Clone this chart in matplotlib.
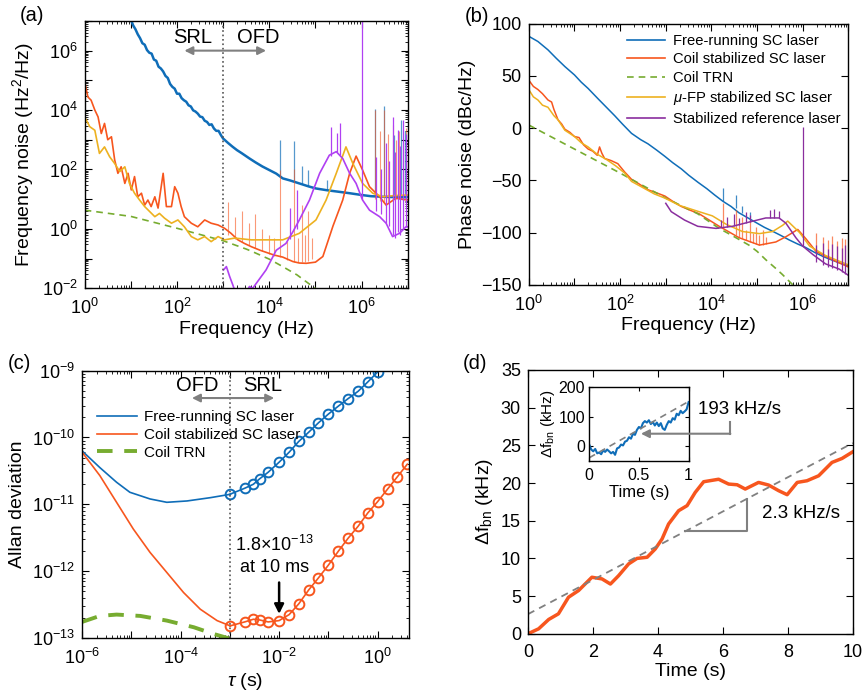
import numpy as np
import matplotlib.pyplot as plt
from matplotlib.ticker import LogLocator, NullFormatter, MultipleLocator

plt.rcParams.update({
    "font.family": ["Liberation Sans", "DejaVu Sans"],
    "mathtext.fontset": "custom",
    "mathtext.rm": "Liberation Sans",
    "mathtext.it": "Liberation Sans:italic",
    "mathtext.bf": "Liberation Sans:bold",
    "xtick.direction": "in",
    "ytick.direction": "in",
    "xtick.top": True,
    "ytick.right": True,
    "xtick.labelsize": 13,
    "ytick.labelsize": 13,
    "xtick.major.pad": 7,
    "ytick.major.pad": 5,
    "axes.labelsize": 14,
    "axes.linewidth": 1.0,
    "xtick.major.size": 5, "ytick.major.size": 5,
    "xtick.minor.size": 2.5, "ytick.minor.size": 2.5,
})

BLUE = "#0F6DB8"
ORANGE = "#F7561E"
YELLOW = "#EDB120"
PURPLE_A = "#B040F2"
PURPLE_B = "#8A2E9E"
GREEN = "#77AC30"
GRAY = "#808080"

# ---------------------------------------------------------------------------
# (a) frequency noise, log10(f) / log10(S)
# ---------------------------------------------------------------------------
a_blu_lf = [1.00, 1.05, 1.10, 1.15, 1.20, 1.25, 1.30, 1.35, 1.40, 1.45, 1.50, 1.55, 1.60,
            1.65, 1.70, 1.75, 1.80, 1.85, 1.90, 1.95, 2.00, 2.05, 2.10, 2.15, 2.20, 2.25,
            2.30, 2.35, 2.40, 2.45, 2.50, 2.55, 2.60, 2.65, 2.70, 2.75, 2.80, 2.85, 2.90,
            2.95, 3.00, 3.10, 3.20, 3.30, 3.40, 3.57, 3.70, 3.85, 4.00, 4.15, 4.29, 4.45,
            4.65, 4.85, 5.01, 5.25, 5.50, 5.74, 6.00, 6.20, 6.46, 6.70, 7.00]
a_blu_ly = [7.05, 6.85, 6.72, 6.55, 6.42, 6.25, 6.20, 6.02, 5.93, 5.90, 5.70, 5.66, 5.46,
            5.40, 5.30, 5.15, 5.08, 4.88, 4.78, 4.72, 4.55, 4.55, 4.40, 4.33, 4.28, 4.16,
            4.12, 3.99, 3.95, 3.88, 3.78, 3.76, 3.64, 3.60, 3.50, 3.52, 3.38, 3.30, 3.30,
            3.16, 3.04, 2.90, 2.77, 2.65, 2.55, 2.37, 2.24, 2.10, 1.98, 1.86, 1.70, 1.63,
            1.53, 1.43, 1.36, 1.30, 1.25, 1.20, 1.14, 1.10, 1.08, 1.07, 1.07]

a_org_lf = [0.00, 0.07, 0.14, 0.22, 0.29, 0.36, 0.43, 0.50, 0.58, 0.65, 0.72, 0.79, 0.87,
            0.94, 1.01, 1.08, 1.15, 1.23, 1.30, 1.37, 1.44, 1.52, 1.59, 1.70, 1.77, 1.88,
            1.95, 2.02, 2.09, 2.16, 2.31, 2.45, 2.60, 2.74, 2.89, 3.03, 3.17, 3.32, 3.46,
            3.61, 3.80, 3.95, 4.10, 4.29, 4.51, 4.65, 4.80, 5.00, 5.16, 5.38, 5.59, 5.74,
            5.88, 6.02, 6.17, 6.39, 6.53, 6.74, 7.00]
a_org_ly = [4.95, 4.44, 4.33, 4.00, 3.77, 3.21, 3.55, 3.00, 3.10, 2.32, 1.87, 2.09, 1.53,
            1.87, 1.31, 1.76, 1.08, 1.20, 0.80, 0.97, 0.75, 1.08, 0.70, 1.87, 0.75, 0.75,
            1.42, 1.20, 0.75, 0.41, 0.19, 0.07, 0.30, 0.19, 0.13, 0.02, -0.15, -0.37, -0.49,
            -0.60, -0.72, -0.80, -0.88, -0.95, -1.10, -1.15, -1.16, -1.12, -0.93, 0.10, 0.97,
            1.87, 2.45, 1.98, 1.42, 1.08, 0.80, 1.03, 0.97]

a_yel_lf = [0.00, 0.11, 0.22, 0.32, 0.43, 0.54, 0.65, 0.76, 0.87, 0.97, 1.08, 1.19, 1.30,
            1.41, 1.52, 1.62, 1.73, 1.88, 2.02, 2.16, 2.31, 2.45, 2.60, 2.74, 2.89, 3.03,
            3.25, 3.61, 3.93, 4.29, 4.65, 5.01, 5.23, 5.45, 5.66, 5.81, 6.02, 6.24, 6.46,
            6.70, 7.00]
a_yel_ly = [3.77, 3.44, 3.32, 2.54, 2.76, 2.43, 2.20, 1.93, 2.09, 1.53, 1.20, 0.97, 0.75,
            0.58, 0.41, 0.52, 0.36, 0.19, 0.30, 0.07, -0.26, -0.37, -0.26, -0.43, -0.26, -0.37,
            -0.31, -0.37, -0.37, -0.37, -0.15, 0.30, 0.97, 1.87, 2.76, 2.20, 1.53, 1.20, 1.08,
            1.12, 1.14]

a_pur_lf = [3.01, 3.07, 3.14, 3.21, 3.30, 3.45, 3.57, 3.64, 3.93, 4.15, 4.36, 4.51, 4.65,
            4.87, 5.09, 5.30, 5.45, 5.59, 5.74, 5.88, 6.02, 6.17, 6.39, 6.53, 6.67, 6.82,
            6.96, 7.00]
a_pur_ly = [-1.38, -1.27, -1.60, -1.89, -2.30, -2.30, -1.94, -2.00, -1.38, -0.72, -0.49,
            -0.10, 0.30, 0.97, 1.87, 2.48, 2.60, 2.37, 1.87, 1.53, 0.97, 0.63, 0.41, 0.19,
            -0.26, -0.15, 0.07, 0.07]

a_trn_lf = [0.0, 1.0, 2.0, 3.0, 3.5, 3.64, 4.0, 4.29, 4.6, 4.8, 4.94, 5.1]
a_trn_ly = [0.63, 0.42, 0.02, -0.40, -0.68, -0.77, -1.02, -1.27, -1.55, -1.78, -1.94, -2.12]

# spikes: log10 f, bottom, top
a_spk_blu_lf = [4.24, 4.53, 4.71, 4.84, 5.25, 6.30, 6.48, 6.71, 6.86, 6.93]
a_spk_blu_lo = [1.75, 1.60, 1.50, 1.45, 1.32, 1.10, 1.08, 1.05, 1.05, 1.05]
a_spk_blu_hi = [3.00, 2.96, 2.10, 1.98, 1.65, 4.05, 4.12, 3.16, 3.66, 3.30]

a_spk_org_lf = [3.10, 3.25, 3.40, 3.55, 3.70, 3.85, 4.00, 4.10, 4.24, 4.38, 4.53, 4.62, 4.71,
                4.78, 4.84, 4.92, 6.30, 6.40, 6.48, 6.58, 6.67, 6.75, 6.82, 6.90, 6.96]
a_spk_org_lo = [-0.20, -0.35, -0.45, -0.55, -0.65, -0.75, -0.85, -0.90, -0.95, -1.05, -1.10,
                -1.12, -1.12, -1.10, -1.08, -1.00, 1.00, 0.95, 0.90, 0.90, 0.95, 1.00, 1.00,
                1.00, 1.00]
a_spk_org_hi = [0.90, 0.40, 0.60, 0.20, 0.50, 0.00, -0.20, -0.30, 1.97, -0.40, 2.00, -0.30,
                0.80, -0.20, 0.60, -0.30, 4.00, 3.30, 4.00, 3.20, 3.50, 3.00, 3.30, 2.90, 3.40]

a_spk_pur_lf = [4.45, 4.60, 5.34, 5.46, 5.53, 6.00, 6.31, 6.42, 6.53, 6.60, 6.67, 6.73, 6.78,
                6.84, 6.89, 6.96]
a_spk_pur_lo = [-0.35, 0.00, 2.45, 2.60, 2.50, 1.00, 0.60, 0.50, 0.20, 0.10, -0.20, -0.30,
                -0.10, -0.20, 0.00, 0.05]
a_spk_pur_hi = [0.70, 1.30, 3.44, 3.24, 3.55, 7.50, 2.43, 2.00, 2.88, 2.30, 3.77, 2.60, 3.32,
                2.80, 3.66, 3.20]

# ---------------------------------------------------------------------------
# (b) phase noise, log10(f) / dBc/Hz
# ---------------------------------------------------------------------------
b_blu_lf = [0.0, 0.2, 0.42, 0.6, 0.79, 1.0, 1.15, 1.3, 1.52, 1.7, 1.88, 2.05, 2.25, 2.45,
            2.61, 2.8, 2.98, 3.15, 3.34, 3.5, 3.71, 3.9, 4.07, 4.25, 4.43, 4.6, 4.8, 5.0,
            5.16, 5.35, 5.53, 5.7, 5.89, 6.05, 6.26, 6.45, 6.62, 6.8, 7.0]
b_blu_db = [88, 83, 75, 67, 59, 51, 44, 38, 28, 20, 12, 4, -5, -11, -15, -21, -27, -33,
            -39, -45, -52, -58, -64, -70, -75, -81, -86, -91, -95, -99, -103, -107, -111,
            -114, -119, -123, -126, -129, -132]

b_org_lf = [0.0, 0.1, 0.2, 0.3, 0.42, 0.5, 0.55, 0.64, 0.72, 0.79, 0.9, 1.0, 1.1, 1.2,
            1.3, 1.4, 1.5, 1.55, 1.6, 1.66, 1.8, 1.95, 2.1, 2.25, 2.4, 2.61, 2.8, 2.98,
            3.15, 3.34, 3.5, 3.73, 4.17, 4.61, 5.05, 5.41, 5.63, 5.89, 6.07, 6.29, 6.65, 7.0]
b_org_db = [46, 40, 37, 33, 27, 25, 18, 8, 4, -1, -4, -8, -9, -16, -20, -22, -26, -18,
            -24, -29, -31, -34, -42, -49, -53, -59, -62, -65, -70, -75, -78, -82, -94,
            -105, -112, -109, -104, -97, -106, -118, -126, -133]

b_yel_lf = [0.0, 0.1, 0.2, 0.3, 0.42, 0.55, 0.64, 0.79, 1.0, 1.15, 1.3, 1.5, 1.7, 1.9,
            2.1, 2.25, 2.5, 2.75, 2.98, 3.3, 3.73, 4.02, 4.32, 4.68, 5.05, 5.34, 5.56,
            5.67, 5.93, 6.15, 6.5, 7.0]
b_yel_db = [37, 30, 27, 22, 20, 12, 8, -2, -8, -14, -18, -25, -30, -36, -43, -51, -57,
            -63, -67, -74, -80, -84, -92, -99, -101, -99, -93, -89, -100, -113, -122, -131]

b_pur_lf = [3.0, 3.12, 3.41, 3.7, 4.1, 4.46, 4.82, 5.19, 5.48, 5.63, 5.85, 6.0, 6.22, 6.5,
            6.8, 7.0]
b_pur_db = [-72, -80, -88, -94, -96, -94, -90, -86, -86, -91, -105, -113, -121, -130,
            -135, -141]

b_trn_lf = [0.0, 1.0, 2.0, 3.0, 3.7, 4.17, 4.5, 4.82, 5.0, 5.19, 5.4, 5.55, 5.78]
b_trn_db = [3, -20, -43, -67, -82, -96, -104, -112, -118, -126, -134, -140, -150]

b_spk_blu_lf = [4.26, 4.53, 4.68, 4.84]
b_spk_blu_lo = [-70, -76, -81, -86]
b_spk_blu_hi = [-57, -64, -75, -80]

b_spk_org_lf = [4.26, 4.53, 4.60, 4.68, 4.75, 4.84, 4.90, 4.97, 5.05, 5.12, 5.20, 6.30,
                6.45, 6.55, 6.65, 6.75, 6.85, 6.93]
b_spk_org_lo = [-96, -102, -104, -105, -107, -109, -110, -111, -112, -112, -111, -120,
                -123, -125, -126, -128, -130, -131]
b_spk_org_hi = [-72, -78, -92, -85, -98, -88, -100, -95, -102, -98, -104, -100, -104,
                -107, -103, -108, -105, -106]

b_spk_pur_lf = [4.20, 4.35, 4.50, 4.60, 4.75, 4.84, 5.28, 5.38, 5.48, 6.00, 6.30, 6.45,
                6.55, 6.65, 6.75, 6.85, 6.93]
b_spk_pur_lo = [-95, -95, -94, -93, -91, -90, -86, -86, -86, -113, -128, -131, -133, -134,
                -136, -138, -140]
b_spk_pur_hi = [-88, -85, -82, -86, -80, -83, -78, -77, -79, 1, -112, -110, -116, -111,
                -113, -115, -112]

# ---------------------------------------------------------------------------
# (c) Allan deviation, log10(tau) / log10(sigma)
# ---------------------------------------------------------------------------
c_blu_ltau = [-6.0, -5.64, -5.3, -5.03, -4.62, -4.28, -3.87, -3.39, -2.99]
c_blu_lad = [-10.2, -10.45, -10.67, -10.82, -10.92, -10.97, -10.95, -10.9, -10.85]
c_org_ltau = [-6.0, -5.64, -5.3, -4.96, -4.62, -4.28, -3.94, -3.6, -3.26, -2.99]
c_org_lad = [-10.22, -10.57, -10.97, -11.37, -11.72, -12.02, -12.32, -12.57, -12.74, -12.82]
c_trn_ltau = [-6.0, -5.64, -5.3, -4.82, -4.28, -3.73, -3.33, -3.0]
c_trn_lad = [-12.76, -12.67, -12.65, -12.67, -12.74, -12.84, -12.94, -13.01]

c_tau = [1e-3, 2e-3, 3e-3, 4e-3, 6e-3, 1e-2, 1.6e-2, 2.5e-2, 4e-2, 6.3e-2, 0.1, 0.16,
         0.25, 0.4, 0.63, 1.0, 1.6, 2.5, 4.0]
c_blu_pts = [-10.85, -10.76, -10.70, -10.62, -10.52, -10.37, -10.22, -10.06, -9.92, -9.78,
             -9.65, -9.53, -9.42, -9.31, -9.17, -9.02]
c_org_pts = [-12.82, -12.76, -12.72, -12.73, -12.76, -12.74, -12.65, -12.49, -12.28, -12.10,
             -11.91, -11.70, -11.51, -11.33, -11.13, -10.96, -10.77, -10.59, -10.40]

# ---------------------------------------------------------------------------
# (d) beat-note drift
# ---------------------------------------------------------------------------
d_t = [0, 0.33, 0.64, 0.94, 1.25, 1.56, 1.97, 2.28, 2.54, 2.79, 3.1, 3.36, 3.67, 3.92,
       4.13, 4.33, 4.64, 4.9, 5.15, 5.41, 5.87, 6.18, 6.44, 6.69, 7.1, 7.41, 7.72, 7.98,
       8.29, 8.59, 8.95, 9.36, 9.67, 10.0]
d_f = [0, 0.66, 1.9, 2.65, 4.85, 5.74, 7.5, 7.28, 6.6, 7.7, 9.27, 10.0, 10.15, 11.25,
       12.58, 14.56, 16.33, 17.0, 18.75, 20.17, 20.5, 19.86, 19.77, 19.2, 20.08, 19.73,
       18.98, 18.45, 20.08, 20.3, 20.96, 22.73, 23.26, 24.14]
d_fit_t = [0, 10]
d_fit_f = [2.6, 25.3]

ins_t = [0, 0.02, 0.04, 0.06, 0.08, 0.1, 0.12, 0.14, 0.16, 0.18, 0.2, 0.22, 0.24, 0.26,
         0.28, 0.3, 0.32, 0.34, 0.36, 0.38, 0.4, 0.42, 0.44, 0.46, 0.48, 0.5, 0.52, 0.54,
         0.56, 0.58, 0.6, 0.62, 0.64, 0.66, 0.68, 0.7, 0.72, 0.74, 0.76, 0.78, 0.8, 0.82,
         0.84, 0.86, 0.88, 0.9, 0.92, 0.94, 0.96, 0.98, 1.0]
ins_f = [5, -12, -18, -10, -25, -22, -28, -15, -20, -12, -18, -25, -20, -30, -8, -5, 5, 2,
         15, 18, 30, 25, 42, 38, 55, 65, 60, 78, 85, 80, 88, 75, 82, 70, 80, 68, 78, 60,
         55, 72, 85, 80, 95, 90, 110, 105, 120, 112, 118, 125, 150]
ins_fit_t = [0, 1]
ins_fit_f = [-40, 152]


def p10(v):
    return 10.0 ** np.asarray(v)


def log_axis(axis, lo, hi, labeled):
    ticks = [10.0 ** k for k in range(lo, hi + 1)]
    axis.set_ticks(ticks)
    axis.set_ticklabels([f"$10^{{{k}}}$" if k in labeled else "" for k in range(lo, hi + 1)])
    axis.set_minor_locator(LogLocator(base=10, subs=np.arange(2, 10), numticks=30))
    axis.set_minor_formatter(NullFormatter())


fig = plt.figure(figsize=(8.64, 6.98), dpi=100)
ax_a = fig.add_axes([0.098, 0.587, 0.374, 0.383])
ax_b = fig.add_axes([0.612, 0.592, 0.370, 0.374])
ax_c = fig.add_axes([0.095, 0.086, 0.378, 0.383])
ax_d = fig.add_axes([0.611, 0.092, 0.376, 0.378])
ax_i = fig.add_axes([0.682, 0.340, 0.115, 0.105])

# ---- (a) ----
ax = ax_a
ax.set_xscale("log")
ax.set_yscale("log")
ax.plot(p10(a_blu_lf), p10(a_blu_ly), color=BLUE, lw=1.8)
ax.vlines(p10(a_spk_blu_lf), p10(a_spk_blu_lo), p10(a_spk_blu_hi), color=BLUE, lw=0.9, alpha=0.7)
ax.plot(p10(a_org_lf), p10(a_org_ly), color=ORANGE, lw=1.2)
ax.vlines(p10(a_spk_org_lf), p10(a_spk_org_lo), p10(a_spk_org_hi), color=ORANGE, lw=0.8, alpha=0.6)
ax.plot(p10(a_trn_lf), p10(a_trn_ly), color=GREEN, lw=1.2, ls=(0, (4, 3)))
ax.plot(p10(a_yel_lf), p10(a_yel_ly), color=YELLOW, lw=1.2)
ax.plot(p10(a_pur_lf), p10(a_pur_ly), color=PURPLE_A, lw=1.2)
ax.vlines(p10(a_spk_pur_lf), p10(a_spk_pur_lo), p10(a_spk_pur_hi), color=PURPLE_A, lw=0.9)
ax.axvline(1e3, color="#555555", ls=":", lw=1.2)
ax.annotate("", xy=(10 ** 2.16, 1e6), xytext=(10 ** 3.93, 1e6),
            arrowprops=dict(arrowstyle="<|-|>", color=GRAY, lw=1.5, mutation_scale=12,
                            shrinkA=0, shrinkB=0))
ax.text(10 ** 2.33, 10 ** 6.45, "SRL", ha="center", va="center", fontsize=14.5)
ax.text(10 ** 3.75, 10 ** 6.45, "OFD", ha="center", va="center", fontsize=14.5)
ax.set_xlim(1, 1e7)
ax.set_ylim(1e-2, 1e7)
log_axis(ax.xaxis, 0, 7, [0, 2, 4, 6])
log_axis(ax.yaxis, -2, 7, [-2, 0, 2, 4, 6])
ax.set_xlabel("Frequency (Hz)", labelpad=2)
ax.set_ylabel("Frequency noise (Hz$^2$/Hz)")

# ---- (b) ----
ax = ax_b
ax.set_xscale("log")
ax.plot(p10(b_blu_lf), b_blu_db, color=BLUE, lw=1.1, label="Free-running SC laser")
ax.vlines(p10(b_spk_blu_lf), b_spk_blu_lo, b_spk_blu_hi, color=BLUE, lw=0.9, alpha=0.8)
ax.plot(p10(b_org_lf), b_org_db, color=ORANGE, lw=1.1, label="Coil stabilized SC laser")
ax.vlines(p10(b_spk_org_lf), b_spk_org_lo, b_spk_org_hi, color=ORANGE, lw=0.9, alpha=0.7)
ax.plot(p10(b_trn_lf), b_trn_db, color=GREEN, lw=1.2, ls=(0, (4, 3)), label="Coil TRN")
ax.plot(p10(b_yel_lf), b_yel_db, color=YELLOW, lw=1.1, label="$\\mu$-FP stabilized SC laser")
ax.plot(p10(b_pur_lf), b_pur_db, color=PURPLE_B, lw=1.1, label="Stabilized reference laser")
ax.vlines(p10(b_spk_pur_lf), b_spk_pur_lo, b_spk_pur_hi, color=PURPLE_B, lw=0.9)
ax.set_xlim(1, 1e7)
ax.set_ylim(-150, 100)
log_axis(ax.xaxis, 0, 7, [0, 2, 4, 6])
ax.yaxis.set_major_locator(MultipleLocator(50))
ax.set_xlabel("Frequency (Hz)", labelpad=2)
ax.set_ylabel("Phase noise (dBc/Hz)")
leg = ax.legend(loc="upper left", bbox_to_anchor=(0.275, 1.0), frameon=False, fontsize=10.6,
                handlelength=2.6, handletextpad=0.5, labelspacing=0.3, borderaxespad=0.3)
for ln in leg.get_lines():
    ln.set_linewidth(1.2)

# ---- (c) ----
ax = ax_c
ax.set_xscale("log")
ax.set_yscale("log")
ax.plot(p10(c_blu_ltau), p10(c_blu_lad), color=BLUE, lw=1.2, label="Free-running SC laser")
ax.plot(p10(c_org_ltau), p10(c_org_lad), color=ORANGE, lw=1.2, label="Coil stabilized SC laser")
ax.plot(p10(c_trn_ltau), p10(c_trn_lad), color=GREEN, lw=2.8, ls=(0, (4, 3)), label="Coil TRN")
ax.plot(c_tau[:len(c_blu_pts)], p10(c_blu_pts), color=BLUE, lw=1.2, marker="o", ms=7,
        mfc="none", mew=1.4)
ax.plot(c_tau, p10(c_org_pts), color=ORANGE, lw=1.2, marker="o", ms=7, mfc="none", mew=1.4)
ax.axvline(1e-3, color="#555555", ls=":", lw=1.2)
ax.annotate("", xy=(10 ** -3.77, 10 ** -9.41), xytext=(10 ** -2.1, 10 ** -9.41),
            arrowprops=dict(arrowstyle="<|-|>", color=GRAY, lw=1.5, mutation_scale=12,
                            shrinkA=0, shrinkB=0))
ax.text(10 ** -3.67, 10 ** -9.22, "OFD", ha="center", va="center", fontsize=14.5)
ax.text(10 ** -2.34, 10 ** -9.22, "SRL", ha="center", va="center", fontsize=14.5)
ax.text(10 ** -2.09, 10 ** -11.77, "1.8×10$^{-13}$\nat 10 ms", ha="center", va="center",
        fontsize=13, linespacing=1.3)
ax.annotate("", xy=(1e-2, 10 ** -12.64), xytext=(1e-2, 10 ** -12.17),
            arrowprops=dict(arrowstyle="-|>", color="black", lw=1.8, mutation_scale=14,
                            shrinkA=0, shrinkB=0))
ax.set_xlim(1e-6, 10 ** 0.63)
ax.set_ylim(1e-13, 1e-9)
log_axis(ax.xaxis, -6, 0, [-6, -4, -2, 0])
log_axis(ax.yaxis, -13, -9, [-13, -12, -11, -10, -9])
ax.set_xlabel("$\\tau$ (s)", labelpad=2)
ax.set_ylabel("Allan deviation")
ax.legend(loc="upper left", bbox_to_anchor=(0.027, 0.875), frameon=False, fontsize=11,
          handlelength=2.6, handletextpad=0.5, labelspacing=0.25, borderaxespad=0.0)

# ---- (d) ----
ax = ax_d
ax.plot(d_t, d_f, color=ORANGE, lw=2.5)
ax.plot(d_fit_t, d_fit_f, color=GRAY, lw=1.3, ls=(0, (4, 3)))
ax.plot([4.85, 6.75, 6.75], [13.68, 13.68, 17.87], color=GRAY, lw=1.5)
ax.text(8.4, 15.9, "2.3 kHz/s", ha="center", va="center", fontsize=13.5)
ax.set_xlim(0, 10)
ax.set_ylim(0, 35)
ax.xaxis.set_major_locator(MultipleLocator(2))
ax.yaxis.set_major_locator(MultipleLocator(5))
ax.set_xlabel("Time (s)", labelpad=2)
ax.set_ylabel("$\\Delta$f$_{\\mathrm{bn}}$ (kHz)")

ax = ax_i
ax.plot(ins_t, ins_f, color=BLUE, lw=1.5)
ax.plot(ins_fit_t, ins_fit_f, color=GRAY, lw=1.2, ls=(0, (4, 3)))
ax.set_xlim(0, 1)
ax.set_ylim(-50, 200)
ax.set_xticks([0, 0.5, 1])
ax.set_xticklabels(["0", "0.5", "1"])
ax.set_yticks([0, 100, 200])
ax.tick_params(labelsize=11.5, length=3)
ax.tick_params(axis="x", pad=5)
ax.tick_params(axis="y", pad=3)
ax.set_xlabel("Time (s)", fontsize=12, labelpad=2)
ax.set_ylabel("$\\Delta$f$_{\\mathrm{bn}}$ (kHz)", fontsize=11, labelpad=1)
ax.annotate("", xy=(0.52, 42), xytext=(1.42, 42), annotation_clip=False,
            arrowprops=dict(arrowstyle="-|>", color=GRAY, lw=1.5, mutation_scale=12,
                            shrinkA=0, shrinkB=0))
ax.plot([1.42, 1.42], [42, 83], color=GRAY, lw=1.5, clip_on=False)
ax.text(1.09, 126, "193 kHz/s", ha="left", va="center", fontsize=13.5)

for lab, x, y in [("(a)", 0.037, 0.978), ("(b)", 0.552, 0.976),
                  ("(c)", 0.023, 0.479), ("(d)", 0.550, 0.479)]:
    fig.text(x, y, lab, ha="center", va="center", fontsize=14.5)

fig.savefig("out.png", dpi=100)
